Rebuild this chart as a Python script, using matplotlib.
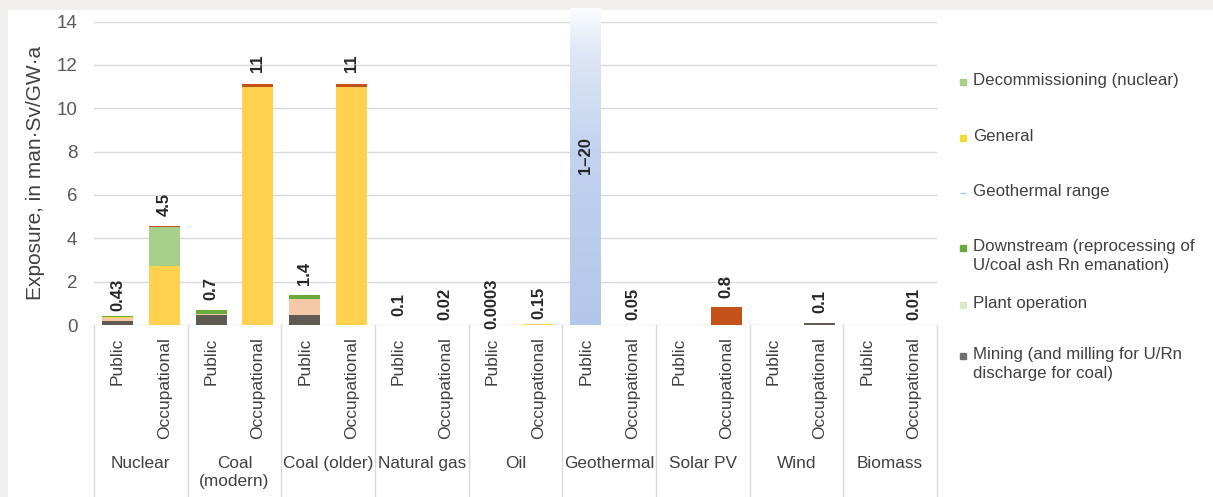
import numpy as np
import matplotlib
matplotlib.use('Agg')
import matplotlib.pyplot as plt
from matplotlib.patches import Rectangle
from matplotlib.lines import Line2D
from matplotlib.colors import LinearSegmentedColormap
import matplotlib.transforms as mtransforms

plt.rcParams['font.family'] = ['Liberation Sans', 'DejaVu Sans']

# ── Data ────────────────────────────────────────────────────────────────────
groups = ["Nuclear", "Coal\n(modern)", "Coal (older)", "Natural gas", "Oil",
          "Geothermal", "Solar PV", "Wind", "Biomass"]
sub_labels = ["Public", "Occupational"] * len(groups)

# stacked components, one value per bar (Public / Occupational per source)
mining      = [0.18, 0, 0.45, 0, 0.48, 0, 0, 0, 0, 0,    0, 0, 0, 0,    0, 0.10, 0, 0]
plant_op    = [0.12, 0, 0.07, 0, 0.74, 0, 0, 0, 0, 0,    0, 0, 0, 0,    0, 0,    0, 0]
general     = [0.05, 2.7, 0, 11.0, 0, 11.0, 0, 0, 0, 0.05, 0, 0, 0, 0,  0, 0,    0, 0]
downstream  = [0.08, 0, 0.18, 0, 0.18, 0, 0, 0, 0, 0,    0, 0, 0, 0,    0, 0,    0, 0]
decommiss   = [0, 1.8, 0, 0, 0, 0, 0, 0, 0, 0,           0, 0, 0, 0,    0, 0,    0, 0]
other       = [0, 0.08, 0, 0.1, 0, 0.1, 0, 0, 0, 0,      0, 0, 0, 0.82, 0, 0,    0, 0]
geo_range   = [0, 0, 0, 0, 0, 0, 0, 0, 0, 0,             14.6, 0, 0, 0, 0, 0,  0, 0]

value_labels = ["0.43", "4.5", "0.7", "11", "1.4", "11", "0.1", "0.02", "0.0003", "0.15",
                "", "0.05", "", "0.8", "", "0.1", "", "0.01"]
geo_label = "1\u201320"
geo_label_y = 7.8

legend_items = ["Decommissioning (nuclear)", "General", "Geothermal range",
                "Downstream (reprocessing of\nU/coal ash Rn emanation)",
                "Plant operation", "Mining (and milling for U/Rn\ndischarge for coal)"]

# ── Style ───────────────────────────────────────────────────────────────────
c_mining = "#5f5a52"
c_plant = "#f5c9a8"
c_general = "#ffd14f"
c_down = "#6aaa3a"
c_decom = "#a6d08a"
c_other = "#c4501a"
c_geo = "#b3c7ea"
text_c = "#404040"

W, H = 1213, 497
fig = plt.figure(figsize=(W / 100, H / 100), dpi=100)
fig.patch.set_facecolor("#f1f0ee")
fig.add_artist(Rectangle((8 / W, 0), 1, 1 - 10 / H, transform=fig.transFigure,
                         facecolor="white", edgecolor="none", zorder=-5))

ax = fig.add_axes([94 / W, 1 - 325 / H, (937 - 94) / W, (325 - 21.5) / H])
ax.set_facecolor("white")

x = np.arange(len(sub_labels))
bw = 0.66
bottom = np.zeros(len(x))
for vals, col in [(mining, c_mining), (plant_op, c_plant), (general, c_general),
                  (downstream, c_down), (decommiss, c_decom), (other, c_other)]:
    ax.bar(x, vals, bw, bottom=bottom, color=col, zorder=3, linewidth=0)
    bottom += np.array(vals)

# geothermal range bar with a fading gradient (blue at the bottom, white at the top)
geo = ax.bar(x, geo_range, bw, color="none", linewidth=0, zorder=3)
cmap = LinearSegmentedColormap.from_list(
    "geo", [(0, c_geo), (0.55, "#c3d3ef"), (0.85, "#dde6f6"), (1, "#fbfcfe")])
for patch in geo:
    if patch.get_height() > 0:
        grad = np.linspace(0, 1, 256).reshape(-1, 1)
        im = ax.imshow(grad, extent=[patch.get_x(), patch.get_x() + patch.get_width(),
                                     0, patch.get_height()],
                       origin="lower", aspect="auto", cmap=cmap, zorder=3)
        im.set_clip_path(patch)

ax.set_xlim(-0.5, len(x) - 0.5)
ax.set_ylim(0, 14)

# value labels
for xi, top, lab in zip(x, bottom, value_labels):
    if lab:
        ax.annotate(lab, (xi, top), xytext=(0, 15), textcoords="offset points",
                    rotation=90, ha="center", va="center", fontweight="bold",
                    fontsize=12, color="#262626", zorder=5)
ax.text(x[10], geo_label_y, geo_label, rotation=90, ha="center", va="center",
        fontweight="bold", fontsize=12, color="#262626", zorder=5)

# axes styling
ax.set_yticks(range(0, 15, 2))
ax.yaxis.grid(True, color="#d9d9d9", linewidth=1)
ax.set_axisbelow(True)
for s in ax.spines.values():
    s.set_visible(False)
ax.tick_params(axis="y", length=0, pad=12, labelsize=13.5, labelcolor="#595959")
ax.set_xticks(x)
ax.set_xticklabels(sub_labels, rotation=90, fontsize=12.5, color=text_c)
ax.tick_params(axis="x", length=0, pad=9)
ax.set_ylabel("Exposure, in man\u00b7Sv/GW\u00b7a", fontsize=15, color=text_c, labelpad=8)

# group separators and group labels
trans = mtransforms.blended_transform_factory(ax.transData, ax.transAxes)
for b in np.arange(-0.5, len(x), 2):
    ax.plot([b, b], [0, -0.6], transform=trans, color="#d9d9d9", lw=1, clip_on=False)
for i, g in enumerate(groups):
    ax.text(2 * i + 0.5, -0.432, g, transform=trans, ha="center", va="top",
            fontsize=12.4, color=text_c, linespacing=1.2)

# legend (manual, right side)
leg_colors = [c_decom, "#f2dc3c", c_geo, c_down, "#dfe8c8", "#707070"]
leg_y = [82, 138, 193, 248, 305, 356]
for lab, col, yy in zip(legend_items, leg_colors, leg_y):
    mk = "_" if lab == "Geothermal range" else "s"
    fig.add_artist(Line2D([963 / W], [1 - yy / H], marker=mk, markersize=5,
                          color=col, linestyle="none", transform=fig.transFigure))
    fig.text(973 / W, 1 - (yy - 9) / H, lab, ha="left", va="top", fontsize=12.2,
             color=text_c, linespacing=1.3)

fig.savefig("out.png", dpi=100, facecolor=fig.get_facecolor())
